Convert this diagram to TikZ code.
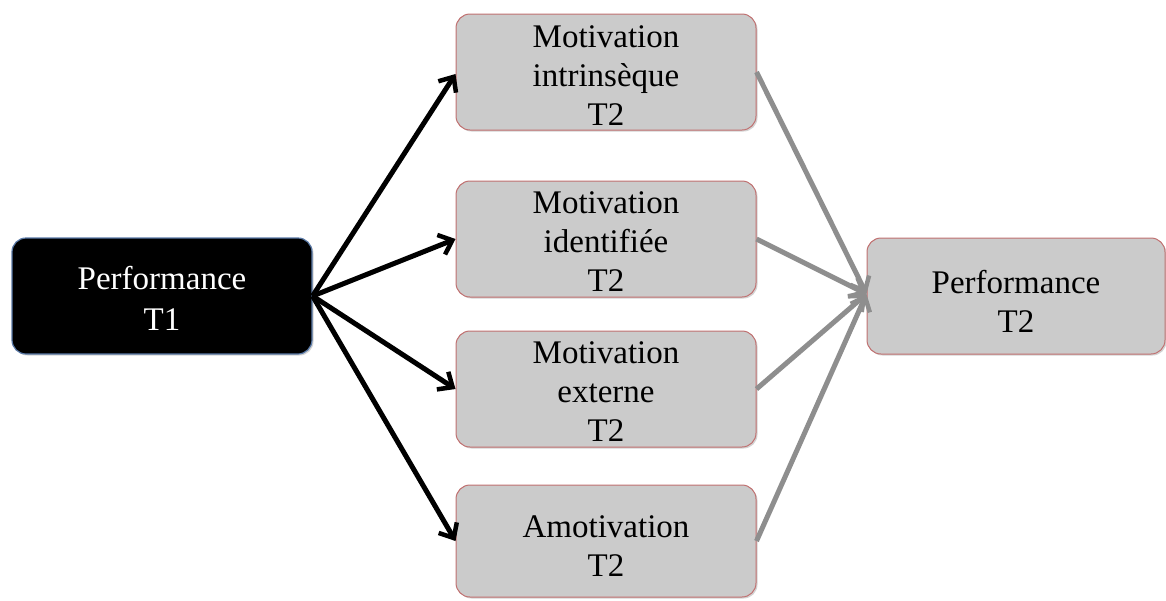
\documentclass[tikz,border=0pt]{standalone}
\usepackage{fontspec}
\setmainfont{Liberation Serif}
\usetikzlibrary{arrows.meta,shadows}
\definecolor{boxgray}{HTML}{CBCBCB}
\definecolor{boxedge}{HTML}{C07070}
\definecolor{darkedge}{HTML}{5A7AA8}
\definecolor{linkgray}{HTML}{8E8E8E}
\tikzset{
  x=1pt, y=-1pt,
  factor/.style={draw=boxedge, line width=1pt, fill=boxgray, rounded corners=14pt,
    minimum width=300pt, minimum height=116pt,
    drop shadow={shadow xshift=1.5pt, shadow yshift=-1.5pt, opacity=0.35}},
  source/.style={factor, fill=black, draw=darkedge, line width=1.2pt},
  caption/.style={align=center, text=black, font=\fontsize{33}{39}\selectfont},
  lightcaption/.style={caption, text=white, font=\fontsize{33}{41}\selectfont},
  blackarrow/.style={line width=5pt, black, -{Straight Barb[length=12pt,width=21pt,line width=4.5pt]}},
  grayarrow/.style={line width=5pt, linkgray, -{Straight Barb[length=12pt,width=21pt,line width=4.5pt]}}
}
\begin{document}
\begin{tikzpicture}
\useasboundingbox (0,0) rectangle (1166,600);
% boxes, each with its text placed as a centred label
\node[source, label={[lightcaption, yshift=-2pt]center:Performance\\T1}] (p1) at (162,296) {};
\node[factor, label={[caption, yshift=-4pt]center:Motivation\\intrinsèque\\T2}] (mi) at (606,72) {};
\node[factor, label={[caption, yshift=-3pt]center:Motivation\\identifiée\\T2}] (mid) at (606,239) {};
\node[factor, label={[caption, yshift=-3pt]center:Motivation\\externe\\T2}] (me) at (606,389) {};
\node[factor, minimum height=112pt, label={[caption, yshift=-5pt]center:Amotivation\\T2}] (am) at (606,541) {};
\node[factor, minimum width=298pt, label={[caption, yshift=-5pt]center:Performance\\T2}] (p2) at (1016,296) {};

\coordinate (p1out) at (p1.east);
\coordinate (p2in) at ([yshift=2pt]p2.west);

% paths from T1 performance to the four motivation types
\draw[blackarrow] (p1out) -- ([yshift=-2pt]mi.west);
\draw[blackarrow] (p1out) -- (mid.west);
\draw[blackarrow] (p1out) -- (me.west);
\draw[blackarrow] (p1out) -- (am.west);

% paths from the motivation types to T2 performance
\draw[grayarrow] (mi.east) -- (p2in);
\draw[grayarrow] (mid.east) -- (p2in);
\draw[grayarrow] (me.east) -- (p2in);
\draw[grayarrow] (am.east) -- (p2in);
\end{tikzpicture}
\end{document}
